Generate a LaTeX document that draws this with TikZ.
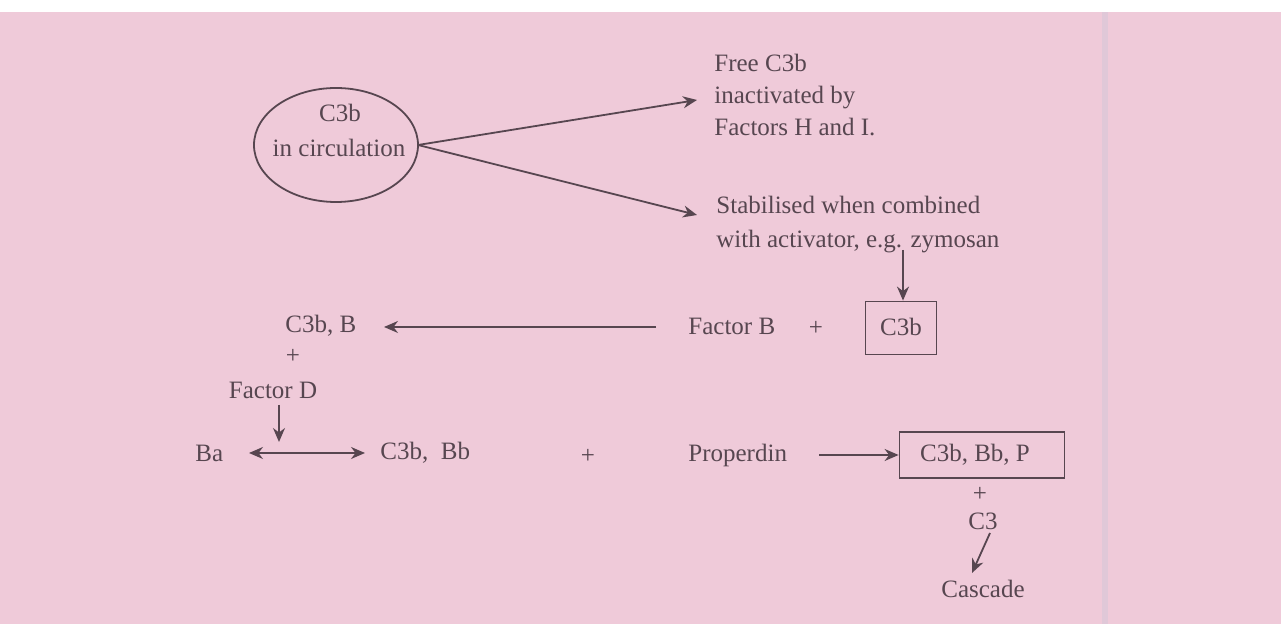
\documentclass[tikz,border=0pt]{standalone}
\usepackage{fontspec}
\setmainfont{Liberation Serif}
\usetikzlibrary{arrows.meta,shapes.geometric}
\definecolor{bgpink}{HTML}{EFCAD9}
\definecolor{ink}{HTML}{574650}
\definecolor{stripe}{HTML}{E0C8D8}
\tikzset{
  lbl/.style={inner sep=0pt, text=ink, font=\fontsize{12.5}{15}\selectfont},
  conn/.style={draw=ink, line width=0.9pt, -{Stealth[length=7pt,width=6pt]}},
  dconn/.style={draw=ink, line width=0.9pt, {Stealth[length=7pt,width=6pt]}-{Stealth[length=7pt,width=6pt]}},
  boxed/.style={draw=ink, line width=0.9pt, inner sep=0pt},
}
\begin{document}
\begin{tikzpicture}[x=0.5pt,y=-0.5pt]
\useasboundingbox (0,0) rectangle (1281,624);
\fill[white] (0,0) rectangle (1281,12);
\fill[bgpink] (0,12) rectangle (1281,624);
\fill[stripe] (1102,12) rectangle (1108,624);
% ellipse
\node[draw=ink, line width=0.9pt, ellipse, minimum width=82pt, minimum height=57pt, inner sep=0pt] (circ) at (336,145) {};
\node[lbl] (c3b) at (340,113) {C3b};
\node[lbl] (incirc) at (339,148) {in circulation};
% right texts
\node[lbl, anchor=west, align=left] (free) at (714,95) {Free C3b\\[1pt]inactivated by\\[1pt]Factors H and I.};
\node[lbl, anchor=west, align=left] (stab) at (716,225) {Stabilised when combined\\[2pt]with activator, e.g. zymosan};
\coordinate (circr) at (418,145);
\coordinate (freein) at (697,100);
\coordinate (stabin) at (697,215);
\draw[conn] (circr) -- (freein);
\draw[conn] (circr) -- (stabin);
% C3b box
\node[boxed, minimum width=35.5pt, minimum height=26.5pt] (c3bbox) at (901,328) {};
\node[lbl] (c3blab) at (901,327) {C3b};
\coordinate (stabout) at (903,250);
\draw[conn] (stabout) -- (c3bbox.north -| stabout);
\node[lbl, anchor=west] (facb) at (688,326) {Factor B};
\node[lbl] (plus1) at (816,328) {+};
\node[lbl, anchor=west] (c3bB) at (285,326) {C3b, B};
\coordinate (facbl) at (656,327);
\coordinate (c3bBr) at (384,327);
\draw[conn] (facbl) -- (c3bBr);
\node[lbl] (plus2) at (293,356) {+};
\node[lbl] (facd) at (273,390) {Factor D};
\coordinate (facdb) at (279,405);
\coordinate (facdt) at (279,442);
\draw[conn] (facdb) -- (facdt);
\node[lbl, anchor=west] (ba) at (195,453) {Ba};
\node[lbl, anchor=west] (c3bbb) at (380,453) {C3b,\ \ Bb};
\coordinate (dl) at (249,453);
\coordinate (dr) at (365,453);
\draw[dconn] (dl) -- (dr);
\node[lbl] (plus3) at (588,456) {+};
\node[lbl, anchor=west] (prop) at (688,455) {Properdin};
\node[boxed, minimum width=82.5pt, minimum height=23pt] (pbox) at (982,455) {};
\node[lbl] (pboxlab) at (975,455) {C3b, Bb, P};
\coordinate (propr) at (819,455);
\draw[conn] (propr) -- (pbox.west);
\node[lbl] (plus4) at (980,494) {+};
\node[lbl] (c3) at (983,521) {C3};
\node[lbl] (casc) at (983,589) {Cascade};
\coordinate (c3b2) at (990,533);
\coordinate (casct) at (972,573);
\draw[conn] (c3b2) -- (casct);
\end{tikzpicture}
\end{document}
